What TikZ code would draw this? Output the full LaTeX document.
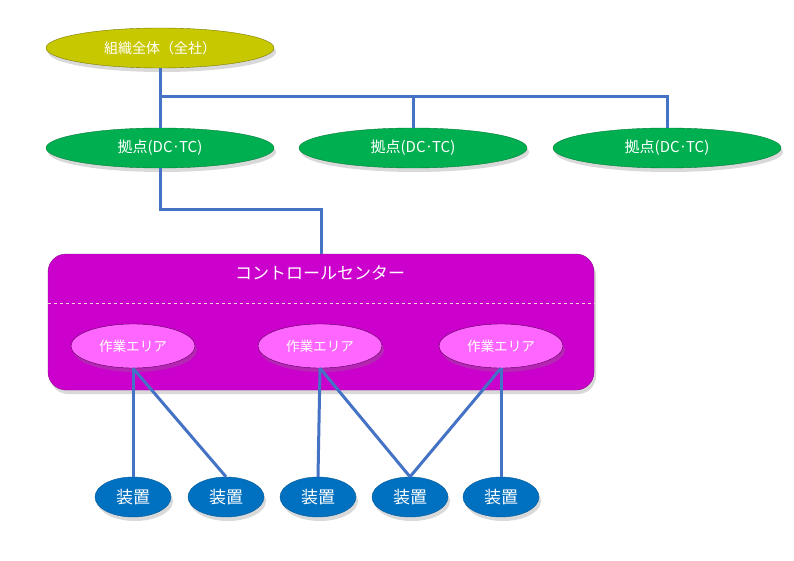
\documentclass[tikz,border=0pt]{standalone}
\usepackage{fontspec}
\setmainfont{Noto Sans CJK JP}
\usetikzlibrary{positioning,shapes.geometric,shadows}
\definecolor{linkblue}{HTML}{4472C4}
\definecolor{olive}{HTML}{C8C800}
\definecolor{basegreen}{HTML}{00B050}
\definecolor{ccmag}{HTML}{CC00CC}
\definecolor{wapink}{HTML}{FF66FF}
\definecolor{devblue}{HTML}{0070C0}

\begin{document}
\begin{tikzpicture}[
  x=1pt, y=-1pt,
  shd/.style={drop shadow={opacity=0.3, shadow xshift=2pt, shadow yshift=-4pt}},
  el/.style={ellipse, inner sep=0pt, text=white, shd},
  org/.style={el, draw=olive!60!black, fill=olive, minimum width=228pt, minimum height=40pt, font=\fontsize{14}{16}\selectfont},
  base/.style={el, draw=basegreen!70!black, fill=basegreen, minimum width=228pt, minimum height=40pt, font=\fontsize{15}{17}\selectfont},
  wa/.style={el, draw=violet!70!black, fill=wapink, minimum width=124pt, minimum height=44pt, font=\fontsize{13.6}{15}\selectfont},
  dev/.style={el, draw=devblue!80!black, fill=devblue, minimum width=76pt, minimum height=40pt, font=\fontsize{17}{19}\selectfont},
  link/.style={draw=linkblue, line width=3pt},
]
\useasboundingbox (0,0) rectangle (794,561);

% organisation and bases
\node[org] (top) at (160,48) {組織全体（全社）};
\node[base] (dc1) at (160,148) {拠点(DC·TC)};
\node[base] (dc2) at (413,148) {拠点(DC·TC)};
\node[base] (dc3) at (667,148) {拠点(DC·TC)};
\coordinate (fork) at (160,97);
\draw[link] (top.south) -- (dc1.north);
\draw[link] (fork) -| (dc2.north);
\draw[link] (fork) -| (dc3.north);

% control center
\node[draw=ccmag!70!black, fill=ccmag, rounded corners=18pt, minimum width=546pt, minimum height=136pt, shd] (cc) at (321,322) {};
\node[text=white, font=\fontsize{17}{19}\selectfont] (title) at (320,273) {コントロールセンター};
\coordinate (sep) at (0,303);
\draw[dashed, draw=pink!70!white, line width=0.8pt] (cc.west |- sep) -- (cc.east |- sep);
\coordinate (bend) at (0,210);
\draw[link] (dc1.south) |- (cc.north |- bend) -- (cc.north);

\node[wa] (wa1) at (133,346) {作業エリア};
\node[wa] (wa2) at (320,346) {作業エリア};
\node[wa] (wa3) at (501,346) {作業エリア};

% devices
\node[dev] (d1) at (133,497) {装置};
\node[dev] (d2) at (226,497) {装置};
\node[dev] (d3) at (318,497) {装置};
\node[dev] (d4) at (410,497) {装置};
\node[dev] (d5) at (501,497) {装置};

\draw[link] (wa1.south) -- (d1.north);
\draw[link] (wa1.south) -- (d2.north);
\draw[link] (wa2.south) -- (d3.north);
\draw[link] (wa2.south) -- (d4.north);
\draw[link] (wa3.south) -- (d4.north);
\draw[link] (wa3.south) -- (d5.north);
\end{tikzpicture}
\end{document}
